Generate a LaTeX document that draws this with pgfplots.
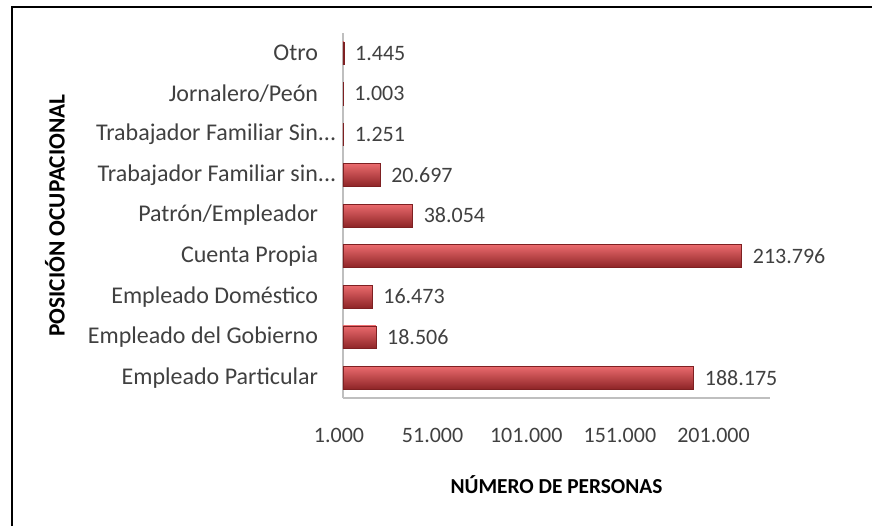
\documentclass[border=0pt]{standalone}
\usepackage{fontspec}
\setmainfont{Carlito}
\usepackage{pgfplots}
\pgfplotsset{compat=1.18}
\definecolor{txt}{HTML}{404040}
\definecolor{axgray}{HTML}{BFBFBF}
\definecolor{bartop}{HTML}{EA6A6D}
\definecolor{barmid}{HTML}{CF3A3D}
\definecolor{barbot}{HTML}{8E2527}
\definecolor{baredge}{HTML}{7E2022}
\pgfplotsset{mybar/.style={draw=baredge, line width=0.4pt, shading=axis, top color=bartop, middle color=barmid, bottom color=barbot}}
\begin{document}
\begin{tikzpicture}
\useasboundingbox (-257.25pt,-96pt) rectangle (396.75pt,298.5pt);
\begin{axis}[
  at={(0,0)}, anchor=south west,
  scale only axis,
  width=320.25pt, height=273.75pt,
  xmin=1000, xmax=229000,
  ymin=-0.5, ymax=8.5,
  axis x line*=bottom, axis y line*=left,
  axis line style={axgray, line width=0.8pt, -},
  major tick length=0pt,
  xtick={1000,51000,101000,151000,201000},
  scaled x ticks=false,
  /pgf/number format/.cd, fixed, 1000 sep={.}, assume math mode=true, /pgfplots/.cd,
  xticklabel style={font=\fontsize{16.5}{18}\selectfont, text=txt, anchor=center, yshift=-27.75pt, xshift=-3pt},
  ytick={0,1,2,3,4,5,6,7,8},
  yticklabels={Empleado Particular, Empleado del Gobierno, Empleado Doméstico, Cuenta Propia, Patrón/Empleador, Trabajador Familiar sin\rlap{...}, Trabajador Familiar Sin\rlap{...}, Jornalero/Peón, Otro},
  yticklabel style={font=\fontsize{18}{20}\selectfont, text=txt, anchor=east, inner sep=0pt, xshift=-18.5pt},
  xlabel={NÚMERO DE PERSONAS},
  ylabel={POSICIÓN OCUPACIONAL},
  every axis x label/.style={at={(axis description cs:0.5,-0.2384)}, anchor=center, font=\bfseries\fontsize{16}{18}\selectfont},
  every axis y label/.style={at={(axis description cs:-0.6745,0.5)}, anchor=center, rotate=90, font=\bfseries\fontsize{17.5}{19}\selectfont},
  xbar, bar width=17pt, bar shift=0pt,
  nodes near coords={\pgfmathprintnumber[fixed,1000 sep={.}]{\pgfplotspointmeta}},
  point meta=x,
  every node near coord/.append style={font=\fontsize{16.5}{18}\selectfont, text=txt, anchor=west, xshift=5pt},
]
\addplot[mybar] coordinates {(188175,0)};
\addplot[mybar] coordinates {(18506,1)};
\addplot[mybar] coordinates {(16473,2)};
\addplot[mybar] coordinates {(213796,3)};
\addplot[mybar] coordinates {(38054,4)};
\addplot[mybar] coordinates {(20697,5)};
\addplot[mybar] coordinates {(1251,6)};
\addplot[mybar] coordinates {(1003,7)};
\addplot[mybar] coordinates {(1445,8)};
\end{axis}
\draw[black, line width=1.6pt] (-248pt,-96pt) -- (-248pt,293.25pt) -- (396.75pt,293.25pt);
\end{tikzpicture}
\end{document}
